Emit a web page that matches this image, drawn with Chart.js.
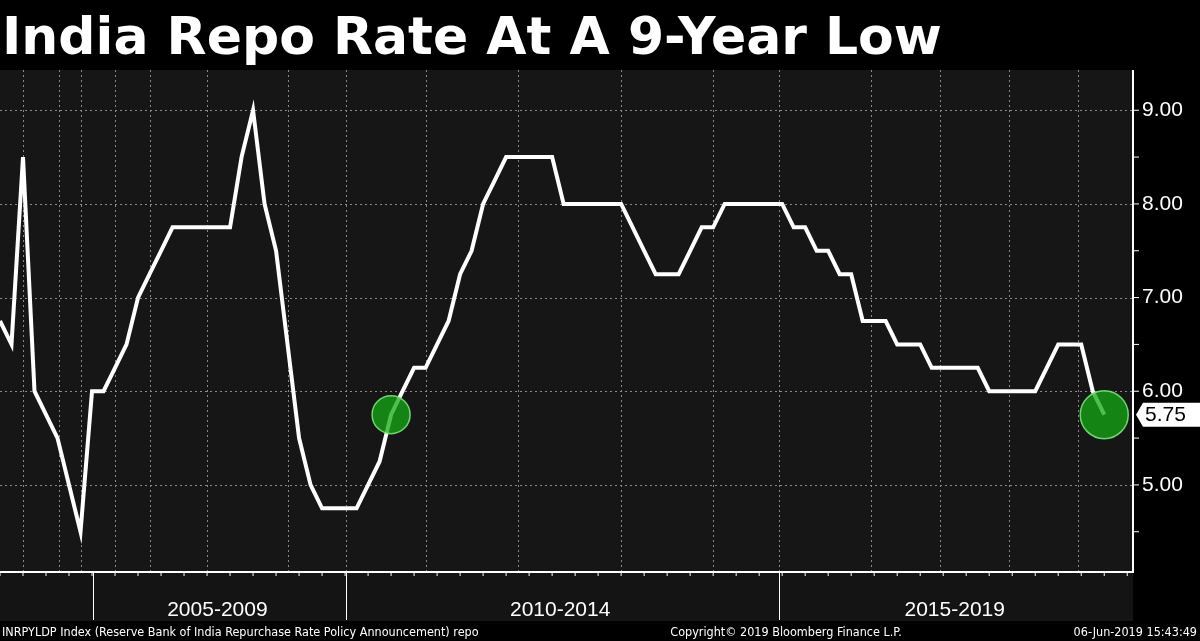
<!DOCTYPE html>
<html><head><meta charset="utf-8">
<script src="https://cdn.jsdelivr.net/npm/chart.js@4/dist/chart.umd.min.js"></script>
<style>html,body{margin:0;padding:0;background:#000;}#w{width:1200px;height:641px;}</style>
</head><body><div id="w"><canvas id="c"></canvas></div>
<script>
const titleText = "India Repo Rate At A 9-Year Low";
const repoRate = [6.75,6.5,8.5,6.0,5.75,5.5,5.0,4.5,6.0,6.0,6.25,6.5,7.0,7.25,7.5,7.75,7.75,7.75,7.75,7.75,7.75,8.5,9.0,8.0,7.5,6.5,5.5,5.0,4.75,4.75,4.75,4.75,5.0,5.25,5.75,6.0,6.25,6.25,6.5,6.75,7.25,7.5,8.0,8.25,8.5,8.5,8.5,8.5,8.5,8.0,8.0,8.0,8.0,8.0,8.0,7.75,7.5,7.25,7.25,7.25,7.5,7.75,7.75,8.0,8.0,8.0,8.0,8.0,8.0,7.75,7.75,7.5,7.5,7.25,7.25,6.75,6.75,6.75,6.5,6.5,6.5,6.25,6.25,6.25,6.25,6.25,6.0,6.0,6.0,6.0,6.0,6.25,6.5,6.5,6.5,6.0,5.75];
const highlightIdx = [34, 96];
const yTicks = [5,6,7,8,9];
const periodLabels = ["2005-2009","2010-2014","2015-2019"];
const periodCenters = [18.9,48.7,83.0];
const periodDividers = [8.1,30.1,67.7];
const gridX = [2,5.1,7,10,13,18,25,30.1,37,45,54,62,67.7,75.7,81.7,87.7,93.7];
const footerLeft = "INRPYLDP Index (Reserve Bank of India Repurchase Rate Policy Announcement) repo";
const footerMid = "Copyright\u00a9 2019 Bloomberg Finance L.P.";
const footerRight = "06-Jun-2019 15:43:49";
const lastLabel = "5.75";

const lineData = repoRate.map((v,i)=>({x:i,y:v}));
const hiData = highlightIdx.map(i=>({x:i,y:repoRate[i]}));

const deco = {
  id:'deco',
  beforeDraw(ch){
    const c=ch.ctx, a=ch.chartArea, xs=ch.scales.x, ys=ch.scales.y;
    c.save();
    c.fillStyle='#000'; c.fillRect(0,0,1200,641);
    c.fillStyle='#161616'; c.fillRect(a.left,a.top,a.right-a.left,a.bottom-a.top);
    c.fillStyle='#141414'; c.fillRect(0,a.bottom,a.right,641-a.bottom-20);
    c.strokeStyle='#8a8a8a'; c.lineWidth=1; c.setLineDash([2,3]);
    yTicks.forEach(t=>{const y=Math.round(ys.getPixelForValue(t))+0.5;c.beginPath();c.moveTo(a.left,y);c.lineTo(a.right,y);c.stroke();});
    gridX.forEach(t=>{const x=Math.round(xs.getPixelForValue(t))+0.5;c.beginPath();c.moveTo(x,a.top);c.lineTo(x,a.bottom);c.stroke();});
    c.setLineDash([]);
    c.restore();
  },
  afterDraw(ch){
    const c=ch.ctx, a=ch.chartArea, xs=ch.scales.x, ys=ch.scales.y;
    c.save();
    c.strokeStyle='#fff'; c.lineWidth=2;
    c.beginPath(); c.moveTo(a.right,a.top); c.lineTo(a.right,a.bottom); c.lineTo(a.left,a.bottom); c.stroke();
    c.lineWidth=1;
    c.fillStyle='#fff'; c.font='21px "Liberation Sans", Arial'; c.textBaseline='middle'; c.textAlign='left';
    for(let v=4.5; v<=9.25; v+=0.5){
      const y=ys.getPixelForValue(v);
      c.beginPath(); c.moveTo(a.right,y); c.lineTo(a.right+6,y); c.stroke();
    }
    yTicks.forEach(t=>{const y=ys.getPixelForValue(t); c.fillText(t.toFixed(2),a.right+9,y);});
    for(let i=0;i<repoRate.length+2;i+=2){const x=xs.getPixelForValue(i); if(x>a.right)break; c.beginPath();c.moveTo(x,a.bottom);c.lineTo(x,a.bottom+4);c.stroke();}
    periodDividers.forEach(d=>{const x=Math.round(xs.getPixelForValue(d))+0.5;c.beginPath();c.moveTo(x,a.bottom);c.lineTo(x,a.bottom+48);c.stroke();});
    c.font='21px "Liberation Sans", Arial'; c.textAlign='center';
    periodLabels.forEach((l,i)=>c.fillText(l,xs.getPixelForValue(periodCenters[i]),610));
    c.font='12.5px "DejaVu Sans Condensed","DejaVu Sans", Arial'; c.textBaseline='middle';
    c.textAlign='left'; c.fillText(footerLeft,2,633);
    c.textAlign='center'; c.fillText(footerMid,786,633);
    c.textAlign='right'; c.fillText(footerRight,1197,633);
    const ly=ys.getPixelForValue(repoRate[repoRate.length-1]);
    c.fillStyle='#fff'; c.beginPath();
    c.moveTo(a.right+3,ly); c.lineTo(a.right+10,ly-12); c.lineTo(1200,ly-12); c.lineTo(1200,ly+12); c.lineTo(a.right+10,ly+12); c.closePath(); c.fill();
    c.fillStyle='#000'; c.textAlign='left'; c.font='21px "Liberation Sans", Arial'; c.fillText(lastLabel,a.right+12,ly+1);
    c.fillStyle='#fff'; c.font='bold 52px "DejaVu Sans", Arial'; c.textAlign='left'; c.textBaseline='alphabetic';
    c.fillText(titleText,2,54);
    c.restore();
  }
};

new Chart(document.getElementById('c'),{
  type:'line',
  data:{datasets:[
    {data:lineData,borderColor:'#fff',borderWidth:4,pointRadius:0,tension:0,order:2},
    {type:'scatter',data:hiData,pointRadius:[19,24],pointBackgroundColor:'rgba(20,170,20,0.75)',pointBorderColor:'rgba(120,230,120,0.9)',pointBorderWidth:1.5,order:1,clip:false}
  ]},
  options:{
    responsive:true,maintainAspectRatio:false,animation:false,
    layout:{autoPadding:false,padding:{left:0,top:70,right:67,bottom:69}},
    plugins:{legend:{display:false},tooltip:{enabled:false}},
    scales:{
      x:{type:'linear',min:0,max:98.5,display:false},
      y:{min:4.07,max:9.43,display:false}
    }
  },
  plugins:[deco]
});
</script></body></html>
